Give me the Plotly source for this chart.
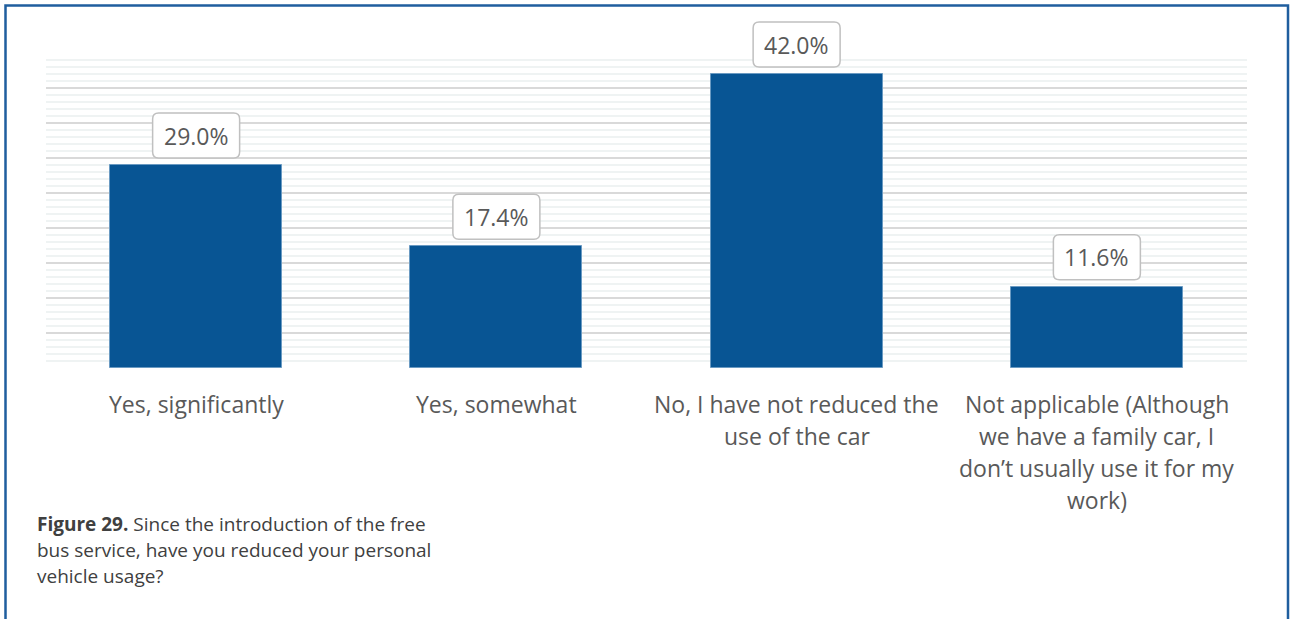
import plotly.graph_objects as go

# Survey answers and their shares (%)
categories = [
    "Yes, significantly",
    "Yes, somewhat",
    "No, I have not reduced the use of the car",
    "Not applicable (Although we have a family car, I don’t usually use it for my work)",
]
tick_lines = [
    ["Yes, significantly"],
    ["Yes, somewhat"],
    ["No, I have not reduced the", "use of the car"],
    ["Not applicable (Although", "we have a family car, I", "don’t usually use it for my", "work)"],
]
shares = [29.0, 17.4, 42.0, 11.6]
value_labels = ["29.0%", "17.4%", "42.0%", "11.6%"]

caption_lines = [
    "<b>Figure 29.</b> Since the introduction of the free",
    "bus service, have you reduced your personal",
    "vehicle usage?",
]

FONT = "Open Sans"
BAR_BLUE = "#085594"
TEXT_GREY = "#595959"
Y_MAX = 45

W, H = 1290, 619
ML, MR, MT, MB = 46, 43, 53, 251
plot_w = W - ML - MR
plot_h = H - MT - MB


def px_x(p):
    return (p - ML) / plot_w


def px_y(p):
    return (H - MB - p) / plot_h


n = len(categories)
idx = list(range(n))

fig = go.Figure()
fig.add_trace(go.Bar(
    x=idx,
    y=shares,
    width=0.573,
    marker=dict(color=BAR_BLUE, line=dict(color="#6A9AC2", width=1)),
    hoverinfo="skip",
))

shapes = []
annotations = []

# rounded label boxes above each bar (paper-anchored so they are not clipped)
BW, BH, R, GAP = 87, 45, 6, 7
for i, v, lab in zip(idx, shares, value_labels):
    x0, x1 = -BW / 2, BW / 2
    y0, y1 = GAP, GAP + BH
    path = (
        f"M {x0 + R} {y0} L {x1 - R} {y0} Q {x1} {y0} {x1} {y0 + R} "
        f"L {x1} {y1 - R} Q {x1} {y1} {x1 - R} {y1} "
        f"L {x0 + R} {y1} Q {x0} {y1} {x0} {y1 - R} "
        f"L {x0} {y0 + R} Q {x0} {y0} {x0 + R} {y0} Z"
    )
    shapes.append(dict(
        type="path", xref="paper", yref="paper",
        xsizemode="pixel", ysizemode="pixel",
        xanchor=(i + 0.5) / n, yanchor=v / Y_MAX, path=path,
        line=dict(color="#C0C0C0", width=1.5), fillcolor="white", layer="above",
    ))
    annotations.append(dict(
        x=i, y=v, xref="x", yref="y", text=lab, showarrow=False,
        yanchor="middle", yshift=GAP + BH / 2,
        font=dict(family=FONT, size=23, color=TEXT_GREY),
    ))

# category labels under the axis, one annotation per line
for i, lines in zip(idx, tick_lines):
    for k, line in enumerate(lines):
        annotations.append(dict(
            x=i, y=0, xref="x", yref="y", text=line, showarrow=False,
            yanchor="middle", yshift=-(36 + 32 * k),
            font=dict(family=FONT, size=23, color=TEXT_GREY),
        ))

# figure caption
for k, line in enumerate(caption_lines):
    annotations.append(dict(
        x=px_x(37), y=px_y(524 + 26 * k), xref="paper", yref="paper",
        text=line, showarrow=False, xanchor="left", yanchor="middle", xshift=-2,
        font=dict(family=FONT, size=19, color="#404040"),
    ))

# blue page frame
shapes.append(dict(
    type="rect", xref="paper", yref="paper",
    x0=px_x(5.5), x1=px_x(1288), y0=px_y(640), y1=px_y(5.5),
    line=dict(color="#1F5E9E", width=2.5), fillcolor="rgba(0,0,0,0)", layer="above",
))

fig.update_layout(
    width=W, height=H,
    margin=dict(l=ML, r=MR, t=MT, b=MB),
    paper_bgcolor="white", plot_bgcolor="white",
    showlegend=False,
    bargap=0,
    shapes=shapes,
    annotations=annotations,
    xaxis=dict(
        range=[-0.5, n - 0.5],
        showticklabels=False, showgrid=False, zeroline=False, showline=False,
        fixedrange=True,
    ),
    yaxis=dict(
        range=[0, Y_MAX], dtick=5, showticklabels=False,
        showgrid=True, gridcolor="#D9D9D9", gridwidth=1.5,
        minor=dict(dtick=1, showgrid=True, gridcolor="#EFF3F3", gridwidth=1.5),
        zeroline=False, showline=False, fixedrange=True,
    ),
)

fig.write_html("out.html", config={"displayModeBar": False})
